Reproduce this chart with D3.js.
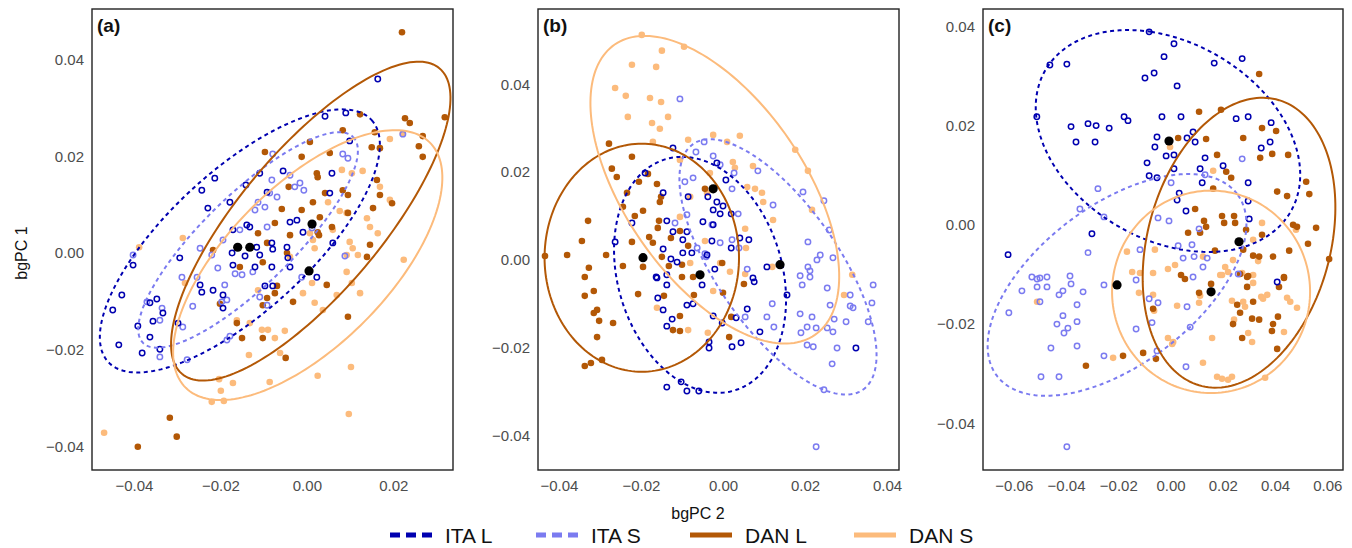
<!DOCTYPE html>
<html lang="en">
<head>
<meta charset="utf-8">
<script src="https://d3js.org/d3.v7.min.js"></script>
<style>
body { margin: 0; background: #fff; font-family: 'Liberation Sans', Arial, sans-serif; }
svg { display: block; }
.tick text { fill: #4d4d4d; font-size: 15px; }
text.title { font-size: 16px; fill: #111; }
text.panel { font-size: 19px; font-weight: 700; fill: #111; }
text.legend { font-size: 21px; fill: #111; }
</style>
</head>
<body>
<svg id="chart" width="1352" height="548"></svg>
<script>
// groups, in legend order
const groupNames = ['ITA L', 'ITA S', 'DAN L', 'DAN S'];

// panel (a) points [bgPC2, bgPC1]
const aItaL = [[0.0164,0.0360],[0.0090,0.0290],[0.0042,0.0283],[0.0099,0.0232],[0.0058,0.0165],[-0.0055,0.0170],[-0.0109,0.0165],[-0.0141,0.0141],[-0.0213,0.0155],[-0.0243,0.0130],[-0.0092,0.0126],[-0.0229,0.0093],[-0.0178,0.0105],[-0.0039,0.0064],[-0.0023,0.0068],[-0.0139,0.0058],[-0.0132,0.0054],[-0.0009,0.0043],[-0.0171,0.0048],[0.0053,0.0124],[-0.0173,0.0],[-0.0143,-0.0006],[-0.0116,0.0012],[-0.0109,-0.0004],[-0.0081,0.0021],[-0.0079,0.0008],[-0.0046,0.0012],[-0.0044,-0.0010],[-0.0294,-0.0010],[-0.0402,-0.0025],[-0.0171,-0.0025],[-0.0120,-0.0029],[-0.0081,-0.0029],[-0.0039,-0.0029],[0.0023,-0.0050],[0.0060,0.0021],[-0.0247,-0.0066],[-0.0243,-0.0081],[-0.0217,-0.0077],[-0.0194,-0.0087],[-0.0194,-0.0114],[-0.0097,-0.0068],[-0.0079,-0.0068],[-0.0428,-0.0087],[-0.0449,-0.0118],[-0.0347,-0.0095],[-0.0363,-0.0103],[-0.0333,-0.0124],[-0.0356,-0.0141],[-0.0391,-0.0151],[-0.0298,-0.0145],[-0.0363,-0.0174],[-0.0435,-0.0190],[-0.0340,-0.0199],[-0.0381,-0.0207]];
const aItaS = [[0.0222,0.0246],[0.0083,0.0205],[0.0095,0.0196],[-0.0079,0.0205],[-0.0039,0.0161],[-0.0081,0.0151],[-0.0016,0.0145],[-0.0028,0.0137],[-0.0007,0.0130],[-0.0086,0.0124],[-0.0069,0.0116],[-0.0113,0.0105],[-0.0097,0.0095],[-0.0120,0.0089],[-0.0092,0.0054],[-0.0155,0.0048],[-0.0194,0.0027],[-0.0247,0.0010],[-0.0220,-0.0004],[-0.0402,-0.0004],[0.0012,0.0052],[0.0088,-0.0006],[-0.0166,-0.0043],[-0.0150,-0.0045],[-0.0206,-0.0031],[-0.0125,-0.0039],[-0.0289,-0.0050],[-0.0254,-0.0050],[-0.0190,-0.0066],[-0.0185,-0.0097],[-0.0197,-0.0101],[-0.0109,-0.0091],[-0.0092,-0.0108],[-0.0264,-0.0110],[-0.0370,-0.0101],[-0.0340,-0.0139],[-0.0335,-0.0114],[-0.0287,-0.0153],[-0.0178,-0.0172],[-0.0185,-0.0180],[-0.0340,-0.0215],[-0.0277,-0.0221],[-0.0012,-0.0050]];
const aDanL = [[0.0220,0.0457],[0.0123,0.0287],[0.0227,0.0279],[0.0238,0.0269],[0.0319,0.0281],[0.0083,0.0254],[0.0157,0.0250],[0.0268,0.0242],[0.0007,0.0230],[0.0150,0.0219],[0.0169,0.0217],[0.0259,0.0221],[0.0268,0.0199],[-0.0097,0.0209],[0.0053,0.0207],[-0.0012,0.0199],[0.0023,0.0165],[0.0025,0.0157],[0.0162,0.0151],[-0.0042,0.0137],[0.0169,0.0120],[0.0042,0.0124],[0.0014,0.0105],[0.0083,0.0130],[0.0095,0.0120],[0.0197,0.0103],[0.0153,0.0093],[-0.0058,0.0091],[-0.0012,0.0089],[0.0030,0.0074],[0.0095,0.0083],[-0.0074,0.0062],[0.0058,0.0054],[0.0025,0.0043],[0.0028,0.0037],[-0.0113,0.0041],[-0.0039,0.0037],[-0.0092,0.0021],[0.0146,0.0017],[0.0139,-0.0008],[-0.0102,-0.0019],[-0.0217,0.0006],[-0.0155,-0.0029],[-0.0046,0.0],[0.0046,-0.0066],[-0.0069,-0.0068],[-0.0074,-0.0083],[-0.0092,-0.0093],[-0.0102,-0.0108],[-0.0201,-0.0105],[-0.0032,-0.0101],[0.0095,-0.0132],[-0.0162,-0.0145],[-0.0150,-0.0176],[-0.0102,-0.0176],[-0.0049,-0.0217],[-0.0317,-0.0341],[-0.0301,-0.0380],[-0.0391,-0.0401]];
const aDanS = [[0.0222,0.0248],[0.0192,0.0236],[0.0129,0.0170],[0.0104,0.0165],[0.0081,0.0172],[0.0192,0.0110],[0.0092,0.0083],[0.0169,0.0137],[0.0049,0.0105],[0.0076,0.0087],[0.0146,0.0054],[0.0139,0.0072],[0.0164,0.0041],[0.0224,-0.0014],[0.0007,0.0041],[0.0014,0.0027],[0.0099,0.0023],[0.0106,0.0010],[0.0118,-0.0004],[0.0018,0.0010],[0.0092,-0.0004],[-0.0287,0.0031],[-0.0388,0.0012],[-0.0039,-0.0008],[0.0060,0.0048],[0.0012,-0.0062],[0.0092,-0.0039],[0.0104,-0.0062],[0.0123,-0.0083],[-0.0009,-0.0083],[0.0069,-0.0087],[0.0018,-0.0103],[0.0037,-0.0118],[-0.0113,-0.0077],[-0.0162,-0.0139],[-0.0132,-0.0145],[-0.0104,-0.0159],[-0.0090,-0.0159],[-0.0051,-0.0161],[-0.0074,-0.0176],[-0.0062,-0.0207],[-0.0134,-0.0211],[0.0102,-0.0236],[0.0025,-0.0254],[-0.0203,-0.0261],[-0.0171,-0.0269],[-0.0086,-0.0267],[-0.0199,-0.0285],[-0.0220,-0.0308],[-0.0192,-0.0306],[0.0097,-0.0333],[-0.0469,-0.0372],[-0.0282,-0.0062]];

// panel (b) points
const bItaL = [[-0.0122,0.0255],[-0.0190,0.0198],[0.0007,0.0182],[-0.0015,0.0221],[-0.0015,0.0132],[-0.0037,0.0144],[-0.0024,0.0114],[-0.0007,0.0105],[-0.0146,0.0153],[-0.0085,0.0144],[0.0,0.0123],[-0.0049,0.0087],[-0.0024,0.0080],[0.0020,0.0105],[-0.0222,0.0084],[-0.0137,0.0089],[-0.0122,0.0064],[-0.0088,0.0064],[-0.0098,0.0046],[-0.0027,0.0043],[0.0041,0.0050],[0.0063,0.0046],[-0.0263,0.0041],[-0.0146,0.0025],[-0.0098,0.0016],[-0.0076,0.0016],[-0.0039,0.0011],[0.0020,0.0027],[-0.0127,0.0002],[-0.0112,-0.0005],[-0.0020,-0.0021],[-0.0163,-0.0039],[-0.0137,-0.0034],[0.0073,-0.0041],[0.0107,-0.0016],[-0.0161,-0.0041],[-0.0137,-0.0057],[-0.0051,-0.0057],[0.0076,-0.0050],[0.0156,-0.0080],[-0.0159,-0.0087],[-0.0088,-0.0103],[-0.0073,-0.0100],[-0.0146,-0.0114],[-0.0124,-0.0135],[-0.0137,-0.0151],[-0.0024,-0.0128],[-0.0002,-0.0144],[0.0032,-0.0132],[0.0059,-0.0112],[0.0090,-0.0164],[-0.0034,-0.0187],[-0.0034,-0.0201],[0.0022,-0.0198],[0.0044,-0.0189],[0.0324,-0.0201],[-0.0137,-0.0290],[-0.0102,-0.0278],[-0.0088,-0.0299],[-0.0059,-0.0299]];
const bItaS = [[-0.0105,0.0367],[-0.0046,0.0269],[-0.0066,0.0246],[-0.0024,0.0237],[-0.0007,0.0217],[0.0085,0.0203],[0.0027,0.0198],[-0.0093,0.0178],[-0.0073,0.0187],[0.0022,0.0162],[0.0122,0.0125],[0.0195,0.0155],[0.0246,0.0135],[0.0037,0.0105],[-0.0088,0.0103],[-0.0117,0.0084],[-0.0027,0.0080],[0.0259,0.0068],[0.0207,0.0041],[-0.0007,0.0039],[0.0022,0.0046],[-0.0063,0.0027],[-0.0044,0.0014],[-0.0041,0.0007],[0.0039,0.0027],[0.0237,0.0011],[0.0268,0.0005],[0.0229,0.0],[0.0207,-0.0016],[0.0188,-0.0036],[0.0212,-0.0025],[0.0059,-0.0021],[0.0193,-0.0057],[0.0212,-0.0039],[0.0254,-0.0064],[0.0366,-0.0057],[0.0310,-0.0080],[0.0261,-0.0103],[0.0310,-0.0105],[0.0317,-0.0109],[0.0363,-0.0098],[0.0188,-0.0123],[0.0217,-0.0130],[0.0271,-0.0135],[0.0300,-0.0141],[0.0354,-0.0141],[0.0205,-0.0153],[0.0227,-0.0155],[0.0254,-0.0155],[0.0268,-0.0164],[0.0190,-0.0166],[0.0205,-0.0194],[0.0220,-0.0198],[0.0278,-0.0201],[0.0266,-0.0237],[0.0246,-0.0296],[0.0120,-0.0100],[0.0124,-0.0153],[0.0107,-0.0130],[0.0054,-0.0130],[0.0227,-0.0426]];
const bDanL = [[-0.0278,0.0265],[-0.0222,0.0235],[-0.0271,0.0208],[-0.0259,0.0189],[-0.0205,0.0178],[-0.0183,0.0196],[-0.0161,0.0173],[-0.0234,0.0153],[-0.0151,0.0144],[-0.0154,0.0132],[-0.0044,0.0162],[-0.0195,0.0112],[-0.0215,0.0100],[-0.0244,0.0121],[-0.0329,0.0089],[-0.0156,0.0089],[-0.0159,0.0073],[-0.0105,0.0066],[-0.0127,0.0050],[-0.0344,0.0043],[-0.0222,0.0041],[-0.0180,0.0052],[-0.0171,0.0039],[-0.0085,0.0032],[-0.0434,0.0009],[-0.0380,0.0011],[-0.0285,0.0011],[-0.0149,0.0007],[-0.0100,-0.0011],[-0.0132,-0.0014],[-0.0244,-0.0014],[-0.0327,-0.0018],[-0.0002,-0.0007],[-0.0195,-0.0016],[-0.0337,-0.0039],[-0.0100,-0.0039],[-0.0073,-0.0039],[-0.0337,-0.0082],[-0.0315,-0.0071],[-0.0207,-0.0078],[-0.0144,-0.0082],[-0.0071,-0.0080],[0.0,-0.0075],[0.0051,-0.0055],[-0.0315,-0.0121],[-0.0307,-0.0114],[-0.0302,-0.0139],[-0.0268,-0.0144],[-0.0105,-0.0128],[-0.0122,-0.0160],[-0.0105,-0.0162],[-0.0307,-0.0176],[0.0015,-0.0176],[0.0020,-0.0130],[-0.0295,-0.0228],[-0.0322,-0.0235],[-0.0337,-0.0242]];
const bDanS = [[-0.0198,0.0513],[-0.0095,0.0486],[-0.0149,0.0477],[-0.0222,0.0445],[-0.0163,0.0440],[-0.0263,0.0392],[-0.0237,0.0374],[-0.0178,0.0369],[-0.0151,0.0360],[-0.0232,0.0326],[-0.0134,0.0326],[-0.0173,0.0312],[-0.0154,0.0299],[-0.0171,0.0269],[-0.0085,0.0274],[-0.0024,0.0285],[0.0041,0.0283],[0.0010,0.0269],[0.0176,0.0251],[-0.0105,0.0228],[0.0024,0.0223],[0.0073,0.0214],[0.0207,0.0203],[0.0029,0.0210],[-0.0032,0.0198],[0.0059,0.0166],[0.0078,0.0162],[0.0095,0.0153],[0.0098,0.0132],[-0.0039,0.0153],[-0.0080,0.0144],[0.0217,0.0114],[-0.0105,0.0098],[0.0054,0.0071],[0.0122,0.0091],[-0.0044,0.0043],[0.0056,0.0027],[0.0120,-0.0016],[-0.0080,-0.0007],[-0.0007,-0.0007],[0.0315,-0.0034],[-0.0024,-0.0071],[-0.0161,-0.0109],[-0.0085,-0.0160],[-0.0037,-0.0166],[0.0017,-0.0027],[0.0054,-0.0032],[0.0295,-0.0080]];

// panel (c) points
const cItaL = [[-0.0082,0.0389],[0.0013,0.0365],[-0.0462,0.0322],[-0.0397,0.0324],[-0.0025,0.0339],[0.0167,0.0326],[0.0274,0.0335],[-0.0098,0.0296],[-0.0063,0.0306],[0.0025,0.0280],[-0.0512,0.0218],[-0.0381,0.0198],[-0.0316,0.0204],[-0.0285,0.0200],[-0.0235,0.0195],[-0.0178,0.0218],[-0.0163,0.0210],[-0.0033,0.0218],[0.0040,0.0218],[-0.0362,0.0167],[-0.0289,0.0167],[-0.0052,0.0177],[0.0063,0.0175],[0.0094,0.0167],[0.0086,0.0187],[-0.0060,0.0157],[0.0013,0.0141],[-0.0017,0.0139],[0.0251,0.0214],[0.0297,0.0218],[0.0385,0.0206],[0.0381,0.0167],[0.0347,0.0155],[0.0132,0.0135],[-0.0090,0.0125],[0.0013,0.0113],[0.0113,0.0113],[0.0201,0.0119],[-0.0052,0.0095],[-0.0082,0.0099],[0.0121,0.0085],[0.0297,0.0085],[0.0033,0.0064],[0.0025,0.0050],[0.0297,0.0048],[0.0059,0.0028],[0.0301,0.0012],[-0.0301,-0.0018],[-0.0622,-0.0060],[0.0408,-0.0115]];
const cItaS = [[0.0274,0.0133],[0.0002,0.0085],[0.0132,0.0101],[-0.0278,0.0073],[-0.0347,0.0032],[-0.0255,0.0016],[-0.0048,0.0014],[-0.0006,0.0008],[-0.0316,-0.0056],[-0.0117,-0.0050],[0.0029,-0.0042],[0.0082,-0.0040],[0.0109,-0.0008],[0.0048,-0.0067],[0.0090,-0.0064],[0.0140,-0.0067],[0.0124,-0.0085],[-0.0531,-0.0105],[-0.0500,-0.0107],[-0.0473,-0.0105],[-0.0385,-0.0103],[0.0086,-0.0105],[-0.0511,-0.0109],[-0.0381,-0.0119],[-0.0569,-0.0133],[-0.0511,-0.0125],[-0.0473,-0.0125],[-0.0412,-0.0133],[-0.0427,-0.0141],[-0.0335,-0.0135],[-0.0255,-0.0121],[-0.0132,-0.0111],[-0.0500,-0.0155],[-0.0358,-0.0161],[-0.0619,-0.0177],[-0.0412,-0.0183],[-0.0435,-0.0200],[-0.0393,-0.0208],[-0.0408,-0.0218],[-0.0358,-0.0195],[-0.0082,-0.0149],[-0.0048,-0.0157],[0.0063,-0.0165],[-0.0071,-0.0197],[-0.0132,-0.0210],[0.0075,-0.0206],[-0.0458,-0.0248],[-0.0358,-0.0244],[-0.0255,-0.0264],[-0.0052,-0.0254],[0.0059,-0.0286],[-0.0496,-0.0306],[-0.0427,-0.0306],[-0.0397,-0.0447],[0.0259,-0.0099]];
const cDanL = [[0.0339,0.0304],[0.0109,0.0228],[0.0193,0.0232],[0.0350,0.0195],[0.0404,0.0189],[0.0029,0.0175],[0.0136,0.0173],[0.0278,0.0175],[0.0450,0.0141],[0.0343,0.0135],[0.0389,0.0143],[0.0178,0.0141],[0.0213,0.0107],[0.0232,0.0095],[0.0519,0.0087],[0.0531,0.0062],[0.0408,0.0067],[0.0446,0.0058],[0.0163,0.0073],[0.0094,0.0032],[0.0197,0.0018],[0.0243,0.0018],[0.0128,0.0008],[0.0247,0.0004],[0.0136,-0.0004],[0.0205,0.0004],[0.0289,-0.0010],[0.0469,0.0],[0.0484,-0.0004],[0.0557,-0.0006],[0.0067,-0.0016],[0.0113,-0.0016],[0.0350,-0.0020],[0.0526,-0.0038],[0.0454,-0.0052],[0.0607,-0.0069],[0.0278,-0.0050],[0.0316,-0.0062],[0.0339,-0.0064],[0.0392,-0.0064],[0.0170,-0.0052],[0.0434,-0.0105],[0.0040,-0.0101],[0.0055,-0.0109],[0.0293,-0.0105],[0.0266,-0.0099],[0.0297,-0.0103],[0.0434,-0.0107],[0.0415,-0.0125],[0.0293,-0.0125],[0.0155,-0.0119],[0.0109,-0.0137],[0.0316,-0.0155],[0.0255,-0.0161],[0.0266,-0.0177],[-0.0067,-0.0169],[0.0411,-0.0185],[0.0312,-0.0189],[0.0339,-0.0191],[0.0239,-0.0200],[0.0392,-0.0200],[0.0388,-0.0214],[0.0274,-0.0228],[0.0408,-0.0250],[-0.0105,-0.0258],[-0.0182,-0.0264],[-0.0056,-0.0270],[-0.0324,-0.0284]];
const cDanS = [[-0.0002,0.0157],[0.0163,0.0109],[0.0350,0.0004],[0.0480,-0.0010],[0.0316,-0.0030],[-0.0167,-0.0054],[-0.0060,-0.0050],[0.0124,-0.0064],[-0.0010,-0.0089],[0.0017,-0.0081],[0.0209,-0.0085],[0.0239,-0.0071],[0.0274,-0.0097],[0.0316,-0.0101],[-0.0067,-0.0097],[-0.0147,-0.0095],[0.0190,-0.0101],[0.0335,-0.0073],[-0.0117,-0.0097],[0.0197,-0.0101],[0.0220,-0.0095],[0.0316,-0.0117],[-0.0121,-0.0137],[-0.0067,-0.0141],[0.0113,-0.0143],[0.0235,-0.0153],[0.0278,-0.0155],[0.0347,-0.0145],[0.0370,-0.0141],[0.0354,-0.0149],[0.0446,-0.0147],[0.0458,-0.0155],[0.0484,-0.0167],[0.0109,-0.0157],[0.0025,-0.0163],[-0.0063,-0.0173],[0.0285,-0.0165],[0.0243,-0.0191],[0.0297,-0.0218],[0.0434,-0.0216],[0.0312,-0.0236],[0.0159,-0.0228],[-0.0010,-0.0228],[0.0010,-0.0236],[0.0006,-0.0240],[0.0124,-0.0278],[-0.0220,-0.0268],[0.0178,-0.0306],[0.0197,-0.0310],[0.0220,-0.0312],[0.0235,-0.0306],[0.0362,-0.0308],[-0.0511,-0.0155]];

// group means (black dots), order ITA L, ITA S, DAN L, DAN S
const aMeans = [[-0.0160,0.0012],[-0.0132,0.0012],[0.0012,0.0060],[0.0005,-0.0037]];
const bMeans = [[-0.0056,-0.0034],[0.0139,-0.0011],[-0.0195,0.0005],[-0.0024,0.0162]];
const cMeans = [[-0.0006,0.0169],[-0.0205,-0.0121],[0.0262,-0.0034],[0.0155,-0.0135]];

// 95% ellipses: centre x, centre y, then two conjugate half-axes (x, y)
const aEllipses = [[-0.0155,0.0025,0.0305,0.0250,0.0109,-0.0108],[-0.0136,0.0027,0.0243,0.0213,0.0074,-0.0066],[0.0009,0.0066,0.0298,0.0316,0.0125,-0.0095],[0.0002,-0.0025,0.0282,0.0254,0.0132,-0.0116]];
const bEllipses = [[-0.0056,-0.0034,-0.0044,0.0269,0.0205,0],[0.0134,-0.0016,0.0207,-0.0280,0.0122,0.0080],[-0.0198,0.0005,0,0.0260,0.0237,0],[-0.0020,0.0160,0.0244,-0.0331,0.0180,0.0116]];
const cEllipses = [[-0.0010,0.0169,-0.0065,0.0220,0.0502,-0.0040],[-0.0205,-0.0121,0.0463,0.0181,0.0176,-0.0131],[0.0262,-0.0036,0.0080,0.0292,0.0360,0.0008],[0.0155,-0.0135,0,0.0204,0.0379,0]];

const ticks4 = [-0.04, -0.02, 0, 0.02, 0.04];

const colors = ['#0000b0', '#7b7bf0', '#b35806', '#fcbb7c'];
const dashed = [true, true, false, false];
const open = [true, true, false, false];

const panels = [
  { label: '(a)', left: 92, right: 453, xDomain: [-0.0497, 0.0338], yDomain: [-0.0449, 0.0505],
    xTicks: [-0.04, -0.02, 0, 0.02], yTicks: ticks4,
    points: [aItaL, aItaS, aDanL, aDanS], means: aMeans, ellipses: aEllipses },
  { label: '(b)', left: 538, right: 899, xDomain: [-0.0451, 0.0429], yDomain: [-0.0479, 0.0572],
    xTicks: ticks4, yTicks: ticks4,
    points: [bItaL, bItaS, bDanL, bDanS], means: bMeans, ellipses: bEllipses },
  { label: '(c)', left: 983, right: 1343, xDomain: [-0.0718, 0.0660], yDomain: [-0.0494, 0.0435],
    xTicks: [-0.06, -0.04, -0.02, 0, 0.02, 0.04, 0.06], yTicks: ticks4,
    points: [cItaL, cItaS, cDanL, cDanS], means: cMeans, ellipses: cEllipses }
];

const plotTop = 9, plotBottom = 470;
const svg = d3.select('#chart');
const fmt = d3.format('.2f');
const drawOrder = [3, 2, 1, 0];

panels.forEach((p, pi) => {
  const x = d3.scaleLinear().domain(p.xDomain).range([p.left, p.right]);
  const y = d3.scaleLinear().domain(p.yDomain).range([plotBottom, plotTop]);

  const clipId = 'clip' + pi;
  svg.append('clipPath').attr('id', clipId)
    .append('rect')
    .attr('x', p.left).attr('y', plotTop)
    .attr('width', p.right - p.left).attr('height', plotBottom - plotTop);

  const g = svg.append('g').attr('clip-path', `url(#${clipId})`);

  // points
  drawOrder.forEach(k => {
    g.append('g').selectAll('circle')
      .data(p.points[k])
      .join('circle')
      .attr('cx', d => x(d[0]))
      .attr('cy', d => y(d[1]))
      .attr('r', open[k] ? 2.7 : 3.3)
      .attr('fill', open[k] ? 'none' : colors[k])
      .attr('stroke', open[k] ? colors[k] : 'none')
      .attr('stroke-width', 1.5);
  });

  // ellipses
  const angles = d3.range(0, 2 * Math.PI + 0.001, Math.PI / 90);
  const line = d3.line();
  p.ellipses.forEach((e, k) => {
    const pts = angles.map(t => [
      x(e[0] + e[2] * Math.cos(t) + e[4] * Math.sin(t)),
      y(e[1] + e[3] * Math.cos(t) + e[5] * Math.sin(t))
    ]);
    g.append('path')
      .attr('d', line(pts))
      .attr('fill', 'none')
      .attr('stroke', colors[k])
      .attr('stroke-width', 2)
      .attr('stroke-dasharray', dashed[k] ? '4,3.5' : null);
  });

  // group means
  g.append('g').selectAll('circle')
    .data(p.means)
    .join('circle')
    .attr('cx', d => x(d[0]))
    .attr('cy', d => y(d[1]))
    .attr('r', 4.6)
    .attr('fill', '#000');

  // frame
  svg.append('rect')
    .attr('x', p.left).attr('y', plotTop)
    .attr('width', p.right - p.left).attr('height', plotBottom - plotTop)
    .attr('fill', 'none')
    .attr('stroke', '#222')
    .attr('stroke-width', 1.4);

  // axes
  svg.append('g')
    .attr('transform', `translate(0, ${plotBottom})`)
    .call(d3.axisBottom(x).tickValues(p.xTicks).tickFormat(fmt).tickSize(0).tickPadding(10))
    .call(a => a.select('.domain').remove())
    .selectAll('text').style('font-family', 'inherit');

  svg.append('g')
    .attr('transform', `translate(${p.left}, 0)`)
    .call(d3.axisLeft(y).tickValues(p.yTicks).tickFormat(fmt).tickSize(0).tickPadding(8))
    .call(a => a.select('.domain').remove())
    .selectAll('text').style('font-family', 'inherit');

  svg.append('text')
    .attr('class', 'panel')
    .attr('x', p.left + 5)
    .attr('y', plotTop + 23)
    .text(p.label);
});

// axis titles
svg.append('text')
  .attr('class', 'title')
  .attr('text-anchor', 'middle')
  .attr('transform', 'translate(27, 253) rotate(-90)')
  .text('bgPC 1');

svg.append('text')
  .attr('class', 'title')
  .attr('text-anchor', 'middle')
  .attr('x', 698)
  .attr('y', 519)
  .text('bgPC 2');

// legend
const legendX = [390, 536, 690, 854];
const legend = svg.append('g').attr('transform', 'translate(0, 535)');
groupNames.forEach((name, k) => {
  legend.append('line')
    .attr('x1', legendX[k]).attr('x2', legendX[k] + 42)
    .attr('y1', 0).attr('y2', 0)
    .attr('stroke', colors[k])
    .attr('stroke-width', 5)
    .attr('stroke-dasharray', dashed[k] ? '10,6' : null);
  legend.append('text')
    .attr('class', 'legend')
    .attr('x', legendX[k] + 55)
    .attr('y', 8)
    .text(name);
});
</script>
</body>
</html>
